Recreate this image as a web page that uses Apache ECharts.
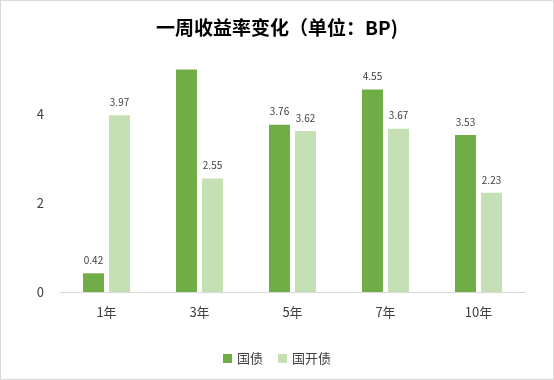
<!DOCTYPE html>
<html><head><meta charset="utf-8">
<script src="https://cdn.jsdelivr.net/npm/echarts@6/dist/echarts.min.js"></script>
<style>html,body{margin:0;padding:0;background:#fff}#c{width:552px;height:378px;border:1px solid #d9d9d9}</style>
</head><body><div id="c"></div>
<script>
const categories = ['1年','3年','5年','7年','10年'];
const guozhai = [0.42, 5.0, 3.76, 4.55, 3.53];
const guokai = [3.97, 2.55, 3.62, 3.67, 2.23];
const hiddenLabelIdx = [1];
const yTicks = {min: 0, max: 5, interval: 2};
const font = "'Noto Sans CJK SC','Noto Sans',sans-serif";
const chart = echarts.init(document.getElementById('c'));
chart.setOption({
  animation: false,
  textStyle: {fontFamily: font},
  title: {text: '一周收益率变化（单位：BP)', left: 'center', top: 12,
    textStyle: {fontSize: 19, fontWeight: 'bold', color: '#000', fontFamily: font}},
  legend: {bottom: 9, left: 'center', itemWidth: 9, itemHeight: 9, itemGap: 15,
    icon: 'rect', textStyle: {fontSize: 13, color: '#404040', fontFamily: font}},
  grid: {left: 59, right: 28, top: 68.5, bottom: 87},
  xAxis: {type: 'category', data: categories,
    axisLine: {lineStyle: {color: '#d9d9d9'}}, axisTick: {show: false},
    axisLabel: {fontSize: 13, color: '#404040', margin: 14}},
  yAxis: {type: 'value', min: yTicks.min, max: yTicks.max, interval: yTicks.interval,
    splitLine: {show: false}, axisLine: {show: false}, axisTick: {show: false},
    axisLabel: {fontSize: 13, color: '#404040', margin: 16, showMaxLabel: false}},
  series: [
    {name: '国债', type: 'bar', barWidth: 21, barGap: '24%',
     itemStyle: {color: '#70AD47'},
     data: guozhai.map((v, i) => hiddenLabelIdx.includes(i) ? {value: v, label: {show: false}} : v),
     label: {show: true, position: 'top', distance: 8, fontSize: 10, color: '#404040'}},
    {name: '国开债', type: 'bar', barWidth: 21,
     itemStyle: {color: '#C5E0B4'}, data: guokai,
     label: {show: true, position: 'top', distance: 8, fontSize: 10, color: '#404040'}}
  ]
});
</script></body></html>
